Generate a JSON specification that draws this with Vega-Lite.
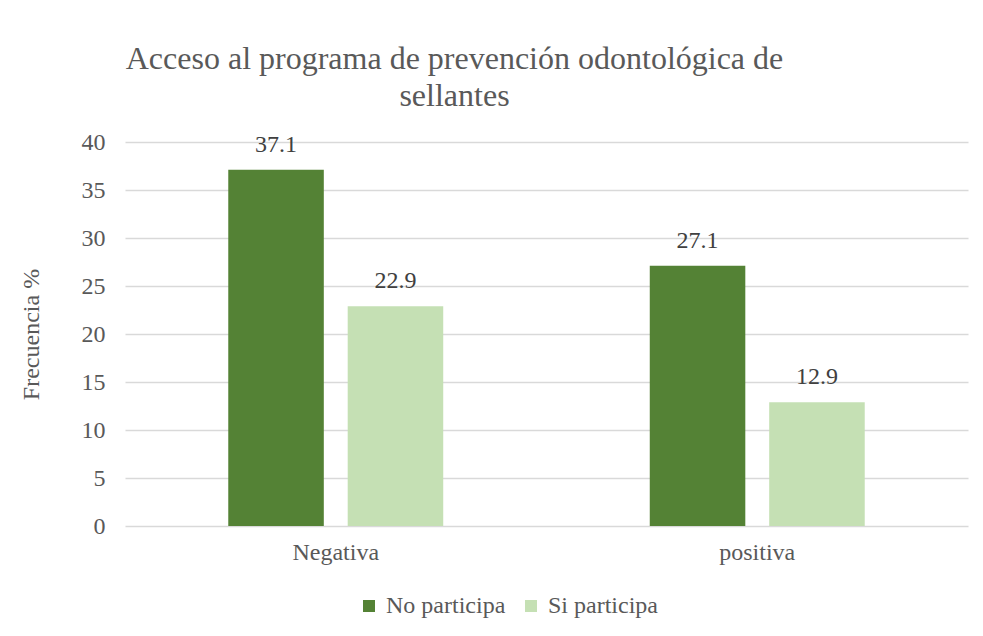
{
  "$schema": "https://vega.github.io/schema/vega-lite/v6.json",
  "width": 843,
  "height": 384,
  "autosize": {"type": "none"},
  "padding": {"left": 125, "top": 142, "right": 15, "bottom": 110},
  "background": "white",
  "title": {
    "text": ["Acceso al programa de prevención odontológica de", "sellantes"],
    "anchor": "middle",
    "frame": "group",
    "dx": -92,
    "dy": 13,
    "font": "Liberation Serif",
    "fontSize": 32,
    "fontWeight": "normal",
    "color": "#595959",
    "lineHeight": 37,
    "offset": 30
  },
  "data": {
    "values": [
      {"resultado": "Negativa", "grupo": "No participa", "valor": 37.1},
      {"resultado": "Negativa", "grupo": "Si participa", "valor": 22.9},
      {"resultado": "positiva", "grupo": "No participa", "valor": 27.1},
      {"resultado": "positiva", "grupo": "Si participa", "valor": 12.9}
    ]
  },
  "encoding": {
    "x": {
      "field": "resultado",
      "type": "nominal",
      "scale": {"paddingInner": 0.49, "paddingOuter": 0.245},
      "axis": {
        "title": null,
        "labelAngle": 0,
        "labelFont": "Liberation Serif",
        "labelFontSize": 24,
        "labelColor": "#595959",
        "labelPadding": 14,
        "ticks": false,
        "domain": false
      }
    },
    "xOffset": {
      "field": "grupo",
      "type": "nominal",
      "scale": {"paddingInner": 0.2, "paddingOuter": 0}
    },
    "y": {
      "field": "valor",
      "type": "quantitative",
      "scale": {"domain": [0, 40], "nice": false},
      "axis": {
        "title": "Frecuencia %",
        "titleFont": "Liberation Serif",
        "titleFontSize": 24,
        "titleFontWeight": "normal",
        "titleColor": "#595959",
        "titlePadding": 38,
        "values": [0, 5, 10, 15, 20, 25, 30, 35, 40],
        "labelFont": "Liberation Serif",
        "labelFontSize": 24,
        "labelColor": "#595959",
        "labelPadding": 20,
        "ticks": false,
        "domain": false,
        "grid": true,
        "gridColor": "#d9d9d9",
        "gridWidth": 1.3
      }
    }
  },
  "layer": [
    {
      "mark": {"type": "bar"},
      "encoding": {
        "color": {
          "field": "grupo",
          "type": "nominal",
          "scale": {"domain": ["No participa", "Si participa"], "range": ["#548235", "#c5e0b4"]},
          "legend": {
            "title": null,
            "orient": "none",
            "direction": "horizontal",
            "legendX": 232,
            "legendY": 452,
            "symbolType": "square",
            "symbolSize": 144,
            "symbolStrokeWidth": 0,
            "labelFont": "Liberation Serif",
            "labelFontSize": 24,
            "labelColor": "#595959",
            "labelOffset": 5,
            "columnPadding": 13,
            "padding": 0
          }
        }
      }
    },
    {
      "mark": {
        "type": "text",
        "baseline": "alphabetic",
        "dy": -18,
        "font": "Liberation Serif",
        "fontSize": 24,
        "color": "#404040"
      },
      "encoding": {
        "text": {"field": "valor", "type": "quantitative", "format": ".1f"}
      }
    }
  ],
  "config": {
    "view": {"stroke": null}
  }
}
